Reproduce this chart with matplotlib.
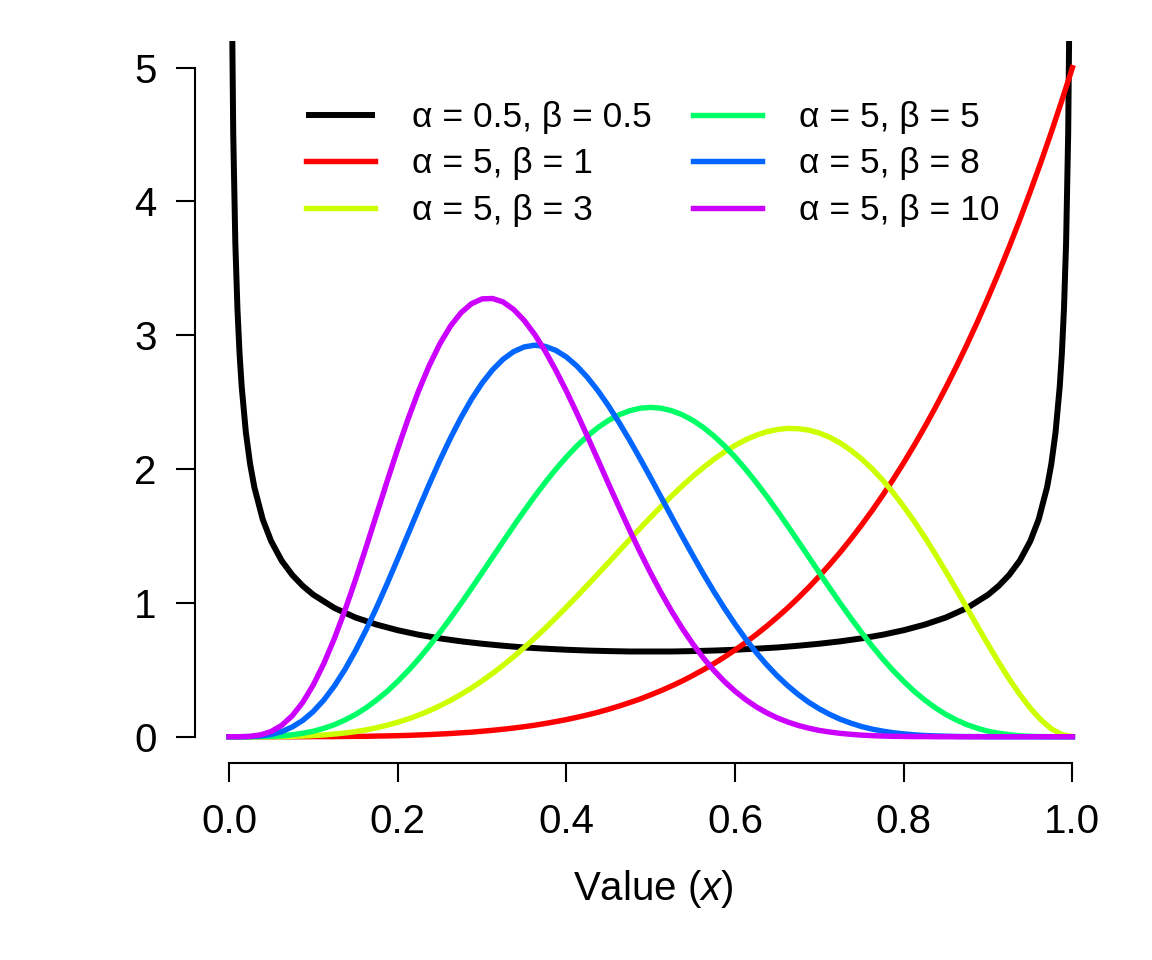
import matplotlib
matplotlib.use('Agg')
import matplotlib.pyplot as plt

plt.rcParams['font.family'] = ['Liberation Sans', 'DejaVu Sans']
plt.rcParams['mathtext.fontset'] = 'custom'
plt.rcParams['mathtext.rm'] = 'Liberation Sans'
plt.rcParams['mathtext.it'] = 'Liberation Sans:italic'

# shared x grid for the alpha = 5 curves
x_grid = [0.0, 0.0125, 0.025, 0.0375, 0.05, 0.0625, 0.075, 0.0875,
          0.1, 0.1125, 0.125, 0.1375, 0.15, 0.1625, 0.175, 0.1875,
          0.2, 0.2125, 0.225, 0.2375, 0.25, 0.2625, 0.275, 0.2875,
          0.3, 0.3125, 0.325, 0.3375, 0.35, 0.3625, 0.375, 0.3875,
          0.4, 0.4125, 0.425, 0.4375, 0.45, 0.4625, 0.475, 0.4875,
          0.5, 0.5125, 0.525, 0.5375, 0.55, 0.5625, 0.575, 0.5875,
          0.6, 0.6125, 0.625, 0.6375, 0.65, 0.6625, 0.675, 0.6875,
          0.7, 0.7125, 0.725, 0.7375, 0.75, 0.7625, 0.775, 0.7875,
          0.8, 0.8125, 0.825, 0.8375, 0.85, 0.8625, 0.875, 0.8875,
          0.9, 0.9125, 0.925, 0.9375, 0.95, 0.9625, 0.975, 0.9875, 1.0]

# alpha = 0.5, beta = 0.5 (U shape, extra points near the edges)
x_u = [0.001, 0.002, 0.003, 0.005, 0.0075, 0.01, 0.0125, 0.015, 0.02, 0.025,
       0.03, 0.04, 0.05, 0.0625, 0.075, 0.0875, 0.1, 0.125, 0.15, 0.175,
       0.2, 0.225, 0.25, 0.275, 0.3, 0.325, 0.35, 0.375, 0.4, 0.425,
       0.45, 0.475, 0.5,
       0.525, 0.55, 0.575, 0.6, 0.625, 0.65, 0.675, 0.7, 0.725, 0.75,
       0.775, 0.8, 0.825, 0.85, 0.875, 0.9, 0.9125, 0.925, 0.9375, 0.95,
       0.96, 0.97, 0.975, 0.98, 0.985, 0.9875, 0.99, 0.9925, 0.995, 0.997,
       0.998, 0.999]
y_u = [10.07, 7.125, 5.820, 4.513, 3.689, 3.199, 2.865, 2.619, 2.274, 2.039,
       1.866, 1.624, 1.461, 1.315, 1.209, 1.127, 1.061, 0.962, 0.891, 0.838,
       0.796, 0.762, 0.735, 0.713, 0.695, 0.680, 0.667, 0.658, 0.650, 0.644,
       0.640, 0.637, 0.637,
       0.637, 0.640, 0.644, 0.650, 0.658, 0.667, 0.680, 0.695, 0.713, 0.735,
       0.762, 0.796, 0.838, 0.891, 0.962, 1.061, 1.127, 1.209, 1.315, 1.461,
       1.624, 1.866, 2.039, 2.274, 2.619, 2.865, 3.199, 3.689, 4.513, 5.820,
       7.125, 10.07]

y_5_1 = [0.0, 0.000, 0.000, 0.000, 0.000, 0.000, 0.000, 0.000, 0.001, 0.001,
         0.001, 0.002, 0.003, 0.003, 0.005, 0.006, 0.008, 0.010, 0.013, 0.016,
         0.020, 0.024, 0.029, 0.034, 0.041, 0.048, 0.056, 0.065, 0.075, 0.086,
         0.099, 0.113, 0.128, 0.145, 0.163, 0.183, 0.205, 0.229, 0.255, 0.282,
         0.313, 0.345, 0.380, 0.417, 0.458, 0.501, 0.547, 0.596, 0.648, 0.704,
         0.763, 0.826, 0.893, 0.963, 1.038, 1.117, 1.201, 1.289, 1.381, 1.479,
         1.582, 1.690, 1.804, 1.923, 2.048, 2.179, 2.316, 2.460, 2.610, 2.767,
         2.931, 3.102, 3.281, 3.467, 3.660, 3.862, 4.073, 4.291, 4.518, 4.755,
         5.0]
y_5_3 = [0.0, 0.000, 0.000, 0.000, 0.001, 0.001, 0.003, 0.005, 0.009, 0.013,
         0.020, 0.028, 0.038, 0.051, 0.067, 0.086, 0.108, 0.133, 0.162, 0.194,
         0.231, 0.271, 0.316, 0.364, 0.417, 0.473, 0.534, 0.598, 0.666, 0.737,
         0.811, 0.888, 0.968, 1.049, 1.133, 1.217, 1.302, 1.388, 1.473, 1.558,
         1.641, 1.721, 1.800, 1.875, 1.946, 2.012, 2.073, 2.128, 2.177, 2.219,
         2.253, 2.279, 2.296, 2.304, 2.302, 2.291, 2.269, 2.237, 2.194, 2.140,
         2.076, 2.002, 1.918, 1.824, 1.720, 1.609, 1.490, 1.364, 1.233, 1.099,
         0.962, 0.824, 0.689, 0.557, 0.432, 0.317, 0.214, 0.127, 0.059, 0.016,
         0.0]
y_5_5 = [0.0, 0.000, 0.000, 0.001, 0.003, 0.007, 0.015, 0.026, 0.041, 0.063,
         0.090, 0.125, 0.166, 0.216, 0.274, 0.339, 0.413, 0.494, 0.582, 0.678,
         0.779, 0.885, 0.995, 1.109, 1.225, 1.342, 1.459, 1.575, 1.688, 1.797,
         1.901, 1.999, 2.090, 2.173, 2.247, 2.311, 2.364, 2.406, 2.436, 2.455,
         2.461,
         2.455, 2.436, 2.406, 2.364, 2.311, 2.247, 2.173, 2.090, 1.999, 1.901,
         1.797, 1.688, 1.575, 1.459, 1.342, 1.225, 1.109, 0.995, 0.885, 0.779,
         0.678, 0.582, 0.494, 0.413, 0.339, 0.274, 0.216, 0.166, 0.125, 0.090,
         0.063, 0.041, 0.026, 0.015, 0.007, 0.003, 0.001, 0.000, 0.000, 0.0]
y_5_8 = [0.0, 0.000, 0.001, 0.006, 0.017, 0.038, 0.073, 0.122, 0.189, 0.275,
         0.380, 0.503, 0.643, 0.798, 0.966, 1.144, 1.329, 1.517, 1.704, 1.888,
         2.065, 2.231, 2.384, 2.522, 2.642, 2.742, 2.821, 2.878, 2.913, 2.926,
         2.917, 2.887, 2.838, 2.770, 2.685, 2.585, 2.472, 2.348, 2.216, 2.077,
         1.934, 1.788, 1.641, 1.496, 1.354, 1.216, 1.084, 0.959, 0.841, 0.731,
         0.630, 0.538, 0.455, 0.381, 0.315, 0.257, 0.208, 0.166, 0.130, 0.101,
         0.076, 0.057, 0.042, 0.030, 0.021, 0.014, 0.009, 0.006, 0.004, 0.002,
         0.001, 0.001, 0.000, 0.000, 0.000, 0.000, 0.0, 0.0, 0.0, 0.0,
         0.0]
y_5_10 = [0.0, 0.000, 0.003, 0.014, 0.039, 0.085, 0.157, 0.257, 0.388, 0.548,
          0.735, 0.945, 1.174, 1.415, 1.662, 1.909, 2.150, 2.378, 2.588, 2.775,
          2.936, 3.068, 3.168, 3.236, 3.272, 3.275, 3.249, 3.193, 3.111, 3.006,
          2.881, 2.738, 2.583, 2.417, 2.244, 2.068, 1.890, 1.715, 1.544, 1.379,
          1.222, 1.074, 0.936, 0.809, 0.693, 0.588, 0.495, 0.412, 0.340, 0.278,
          0.224, 0.179, 0.141, 0.110, 0.084, 0.064, 0.047, 0.035, 0.025, 0.018,
          0.012, 0.008, 0.005, 0.003, 0.002, 0.001, 0.001, 0.000, 0.000, 0.000,
          0.0, 0.0, 0.0, 0.0, 0.0, 0.0, 0.0, 0.0, 0.0, 0.0,
          0.0]

labels = ['α = 0.5, β = 0.5', 'α = 5, β = 1', 'α = 5, β = 3',
          'α = 5, β = 5', 'α = 5, β = 8', 'α = 5, β = 10']
colors = ['#000000', '#FF0000', '#CCFF00', '#00FF66', '#0066FF', '#CC00FF']

fig = plt.figure(figsize=(11.52, 9.6), dpi=100)
ax = fig.add_axes([0.1695, 0.2047, 0.9602 - 0.1695, 0.9574 - 0.2047])

ax.plot(x_u, y_u, color=colors[0], lw=4.3, label=labels[0], solid_capstyle='butt')
series = [y_5_1, y_5_3, y_5_5, y_5_8, y_5_10]
for i, ys in enumerate(series):
    ax.plot(x_grid, ys, color=colors[i + 1], lw=3.9, label=labels[i + 1])

ax.set_xlim(-0.04, 1.04)
ax.set_ylim(-0.2, 5.2)

for s in ['top', 'right']:
    ax.spines[s].set_visible(False)
ax.spines['left'].set_bounds(0, 5)
ax.spines['bottom'].set_bounds(0, 1)
ax.spines['left'].set_linewidth(1.5)
ax.spines['bottom'].set_linewidth(1.5)

ax.set_xticks([0.0, 0.2, 0.4, 0.6, 0.8, 1.0])
ax.set_xticklabels(['0.0', '0.2', '0.4', '0.6', '0.8', '1.0'])
ax.set_yticks([0, 1, 2, 3, 4, 5])
ax.tick_params(axis='both', direction='out', length=13.7, width=1.5, labelsize=29)
ax.tick_params(axis='x', pad=15)
ax.tick_params(axis='y', pad=14)

fig.text(653 / 1152, 1 - 900 / 960, r'Value $(x)$', fontsize=29,
         ha='center', va='baseline')

ax.legend(loc='upper left', bbox_to_anchor=(306 / 1152, 1 - 101 / 960),
          bbox_transform=fig.transFigure, ncol=2, frameon=False, fontsize=25.5,
          handlelength=1.95, handletextpad=1.05, columnspacing=1.15,
          labelspacing=0.38, borderpad=0, borderaxespad=0)

plt.savefig('out.png', dpi=100)
plt.close()
